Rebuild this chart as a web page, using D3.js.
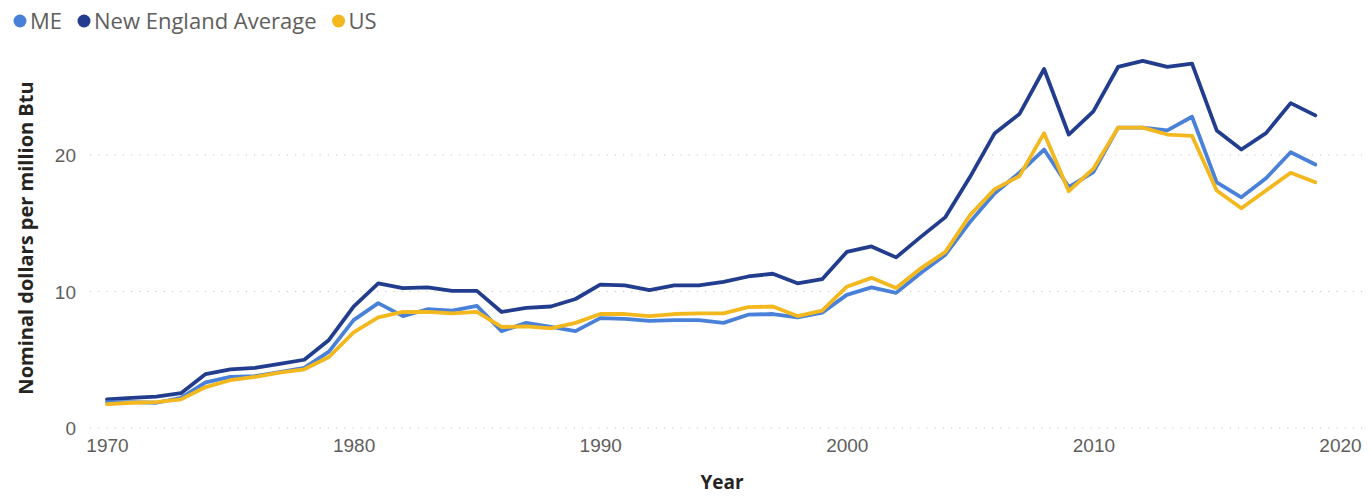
<!DOCTYPE html>
<html><head><meta charset="utf-8">
<script src="https://cdn.jsdelivr.net/npm/d3@7"></script>
<style>
html,body{margin:0;padding:0;background:#fff;}
svg{display:block;font-family:"Segoe UI","Open Sans","Noto Sans",sans-serif;}
</style></head>
<body><svg id="chart" width="1371" height="496"></svg>
<script>
const years = d3.range(1970, 2020);
const me = [1.9,1.9,1.85,2.2,3.35,3.75,3.8,4.1,4.4,5.6,7.9,9.15,8.2,8.7,8.6,8.95,7.1,7.7,7.4,7.1,8.05,8.0,7.85,7.9,7.9,7.7,8.3,8.35,8.1,8.45,9.75,10.3,9.9,11.35,12.7,15.1,17.2,18.7,20.4,17.65,18.75,22.0,22.0,21.8,22.8,18.0,16.9,18.3,20.2,19.3];
const ne = [2.1,2.2,2.3,2.55,3.95,4.3,4.4,4.7,5.0,6.45,8.9,10.6,10.25,10.3,10.05,10.05,8.5,8.8,8.9,9.45,10.5,10.45,10.1,10.45,10.45,10.7,11.1,11.3,10.6,10.9,12.9,13.3,12.5,14.0,15.45,18.4,21.6,23.0,26.3,21.5,23.2,26.45,26.9,26.45,26.7,21.8,20.4,21.6,23.8,22.9];
const us = [1.75,1.85,1.9,2.1,3.0,3.5,3.75,4.05,4.3,5.2,7.0,8.1,8.5,8.5,8.4,8.5,7.4,7.45,7.3,7.7,8.35,8.35,8.2,8.35,8.4,8.4,8.85,8.9,8.2,8.6,10.35,11.0,10.25,11.7,12.9,15.6,17.5,18.45,21.6,17.35,19.0,22.0,22.0,21.5,21.4,17.4,16.1,17.4,18.7,18.0];
const seriesNames = ["ME","New England Average","US"];
const seriesColors = ["#4A81D8","#223D8E","#F4B81F"];
const xTicks = [1970,1980,1990,2000,2010,2020];
const yTicks = [0,10,20];

const svg = d3.select("#chart");
const x = d3.scaleLinear().domain([1970,2020]).range([107,1340]);
const y = d3.scaleLinear().domain([0,10]).range([428,291.5]);

// gridlines
svg.append("g").selectAll("line").data(yTicks).join("line")
  .attr("x1",90).attr("x2",1362)
  .attr("y1",d=>y(d)).attr("y2",d=>y(d))
  .attr("stroke","#c8c6c4").attr("stroke-width",1.2)
  .attr("stroke-dasharray","1.2,7");

// y axis labels
const yAxis = d3.axisLeft(y).tickValues(yTicks).tickSize(0).tickPadding(0).tickFormat(d3.format("d"));
const yg = svg.append("g").attr("transform","translate(76,0)").call(yAxis);
yg.select(".domain").remove();
yg.selectAll("text").attr("fill","#605E5C").style("font-size","19px").attr("dy","0.35em");

// x axis labels
const xAxis = d3.axisBottom(x).tickValues(xTicks).tickSize(0).tickPadding(0).tickFormat(d3.format("d"));
const xg = svg.append("g").attr("transform","translate(0,439)").call(xAxis);
xg.select(".domain").remove();
xg.selectAll("text").attr("fill","#605E5C").style("font-size","19px").attr("dy","0.7em");

// axis titles
svg.append("text").attr("x",722).attr("y",489).attr("text-anchor","middle")
  .attr("fill","#252423").style("font-size","19px").style("font-weight","bold").text("Year");
svg.append("text").attr("transform","translate(33,238) rotate(-90)").attr("text-anchor","middle")
  .attr("fill","#252423").style("font-size","20px").style("font-weight","bold").text("Nominal dollars per million Btu");

// lines
const line = d3.line().x((d,i)=>x(years[i])).y(d=>y(d));
const data = [me, ne, us];
[1,0,2].forEach(k=>{
  svg.append("path").datum(data[k]).attr("d",line)
    .attr("fill","none").attr("stroke",seriesColors[k]).attr("stroke-width",3.8)
    .attr("stroke-linejoin","round").attr("stroke-linecap","round");
});

// legend
const lg = svg.append("g").attr("transform","translate(0,21)");
let lx = 20;
seriesNames.forEach((n,i)=>{
  lg.append("circle").attr("cx",lx).attr("cy",0).attr("r",6.5).attr("fill",seriesColors[i]);
  const t = lg.append("text").attr("x",lx+10).attr("y",0).attr("dy","0.36em")
    .attr("fill","#605E5C").style("font-size","22px").text(n);
  lx += 10 + t.node().getComputedTextLength() + 22;
});
</script></body></html>
